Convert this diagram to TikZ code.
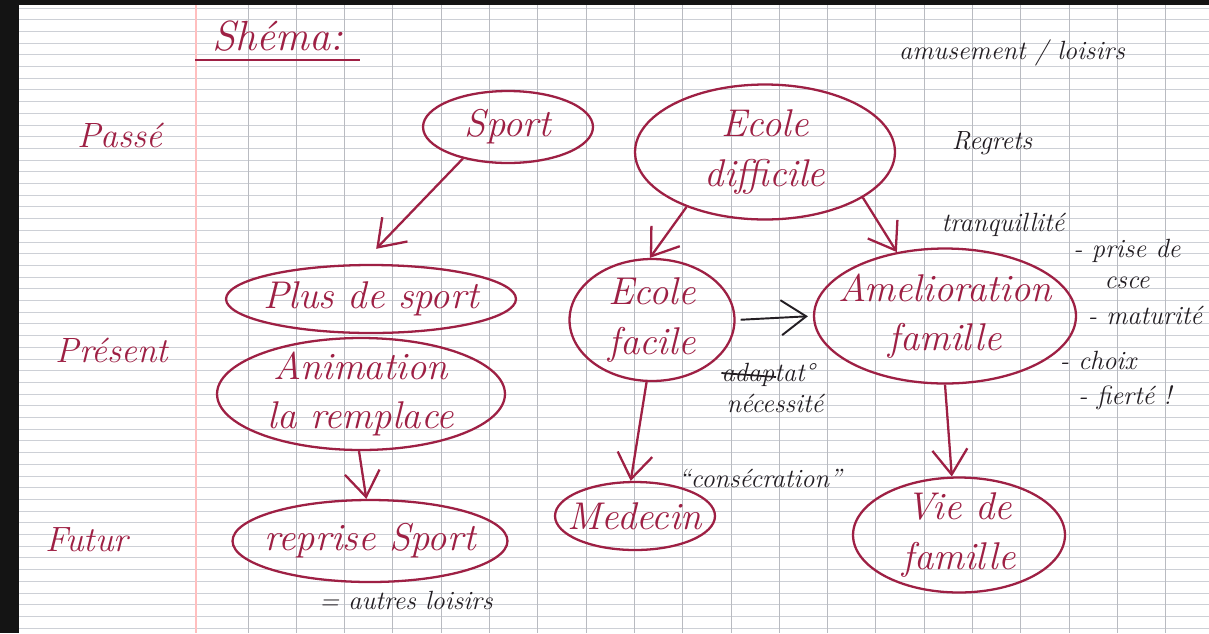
\documentclass[tikz,border=0pt]{standalone}
\usepackage{tikz}
\usetikzlibrary{shapes.geometric,arrows.meta,calc}

\definecolor{encre}{RGB}{158,32,68}
\definecolor{stylo}{RGB}{35,30,35}
\definecolor{reglure}{RGB}{205,208,214}

\begin{document}
\begin{tikzpicture}[x=0.02cm, y=-0.02cm,
    bulle/.style 2 args={ellipse, draw=encre, line width=1.3pt, minimum width=#1, minimum height=#2, inner sep=0pt},
    ecrit/.style={text=encre, font=\fontsize{22}{28}\selectfont\itshape, align=center, inner sep=0pt},
    temps/.style={text=encre, font=\fontsize{20}{24}\selectfont\itshape},
    note/.style={text=stylo, font=\fontsize{15}{18}\selectfont\itshape, inner sep=1pt},
    fleche/.style={-{Straight Barb[length=5mm,width=7mm]}, draw=encre, line width=1.3pt}]
        \useasboundingbox (0,0) rectangle (1209,633);

        % Paper
        \fill[black!92] (0,0) rectangle (1209,633);
        \fill[white] (19,5) rectangle (1209,633);
        \foreach \k in {0,...,53}
            \draw[reglure, line width=0.5pt] (19,{8+\k*11.7}) -- (1209,{8+\k*11.7});
        \foreach \k in {0,...,19}
            \draw[reglure!90!black, line width=0.5pt] ({248+\k*48.3},5) -- ({248+\k*48.3},633);
        \draw[red!25, line width=0.6pt] (196,5) -- (196,633);

        % Title and time axis
        \node[text=encre, font=\fontsize{24}{28}\selectfont\itshape] (titre) at (278,36) {Shéma:};
        \draw[encre, line width=1.3pt] (195,60) -- (360,60);
        \node[temps] (passe) at (120,135) {Passé};
        \node[temps] (present) at (112,350) {Présent};
        \node[temps] (futur) at (87,540) {Futur};

        % Nodes
        \node[bulle={3.4cm}{1.44cm}, label={[ecrit]center:Sport}] (sport) at (508,127) {};
        \node[bulle={5.2cm}{2.7cm}, label={[ecrit]center:{Ecole\\difficile}}] (difficile) at (765,152) {};
        \node[bulle={5.8cm}{1.36cm}, label={[ecrit]center:Plus de sport}] (plus) at (371,299) {};
        \node[bulle={5.76cm}{2.24cm}, label={[ecrit]center:{Animation\\la remplace}}] (anim) at (361,394) {};
        \node[bulle={3.3cm}{2.44cm}, label={[ecrit]center:{Ecole\\facile}}] (facile) at (652,320) {};
        \node[bulle={5.24cm}{2.7cm}, label={[ecrit]center:{Amelioration\\famille}}] (amelio) at (945,316) {};
        \node[bulle={3.2cm}{1.36cm}, label={[ecrit]center:Medecin}] (medecin) at (635,516) {};
        \node[bulle={5.5cm}{1.64cm}, label={[ecrit]center:reprise Sport}] (reprise) at (370,541) {};
        \node[bulle={4.24cm}{2.3cm}, label={[ecrit]center:{Vie de\\famille}}] (vie) at (959,535) {};

        % Edges
        \draw[fleche, shorten >=0.42cm] (sport.215) -- (plus.105);
        \draw[fleche] (difficile.215) -- (facile.92);
        \draw[fleche] (difficile.335) -- (amelio.127);
        \draw[fleche, draw=stylo, line width=1.1pt, shorten <=1mm, shorten >=1mm] (facile.east) -- (amelio.west);
        \draw[fleche] (facile.265) -- (medecin.97);
        \draw[fleche] (anim.268) -- (reprise.95);
        \draw[fleche] (amelio.270) -- (vie.97);

        % Notes
        \node[note] (amusement) at (1012,53) {amusement / loisirs};
        \node[note] (regrets) at (992,143) {Regrets};
        \node[note] (tranquille) at (1003,225) {tranquillité};
        \node[note, align=center] (prise) at (1127,264) {- prise de\\csce};
        \node[note] (maturite) at (1145,315) {- maturité};
        \node[note] (choix) at (1098,360) {- choix};
        \node[note] (fierte) at (1125,398) {- fierté !};
        \node[note] (adapt) at (768,375) {adaptat\textdegree};
        \draw[stylo, line width=1pt] ($(adapt.west)+(2,-2)$) -- ($(adapt.center)+(8,2)$);
        \node[note] (necessite) at (775,403) {nécessité};
        \node[note] (consecration) at (760,478) {``consécration''};
        \node[note] (autres) at (406,600) {= autres loisirs};
\end{tikzpicture}
\end{document}
